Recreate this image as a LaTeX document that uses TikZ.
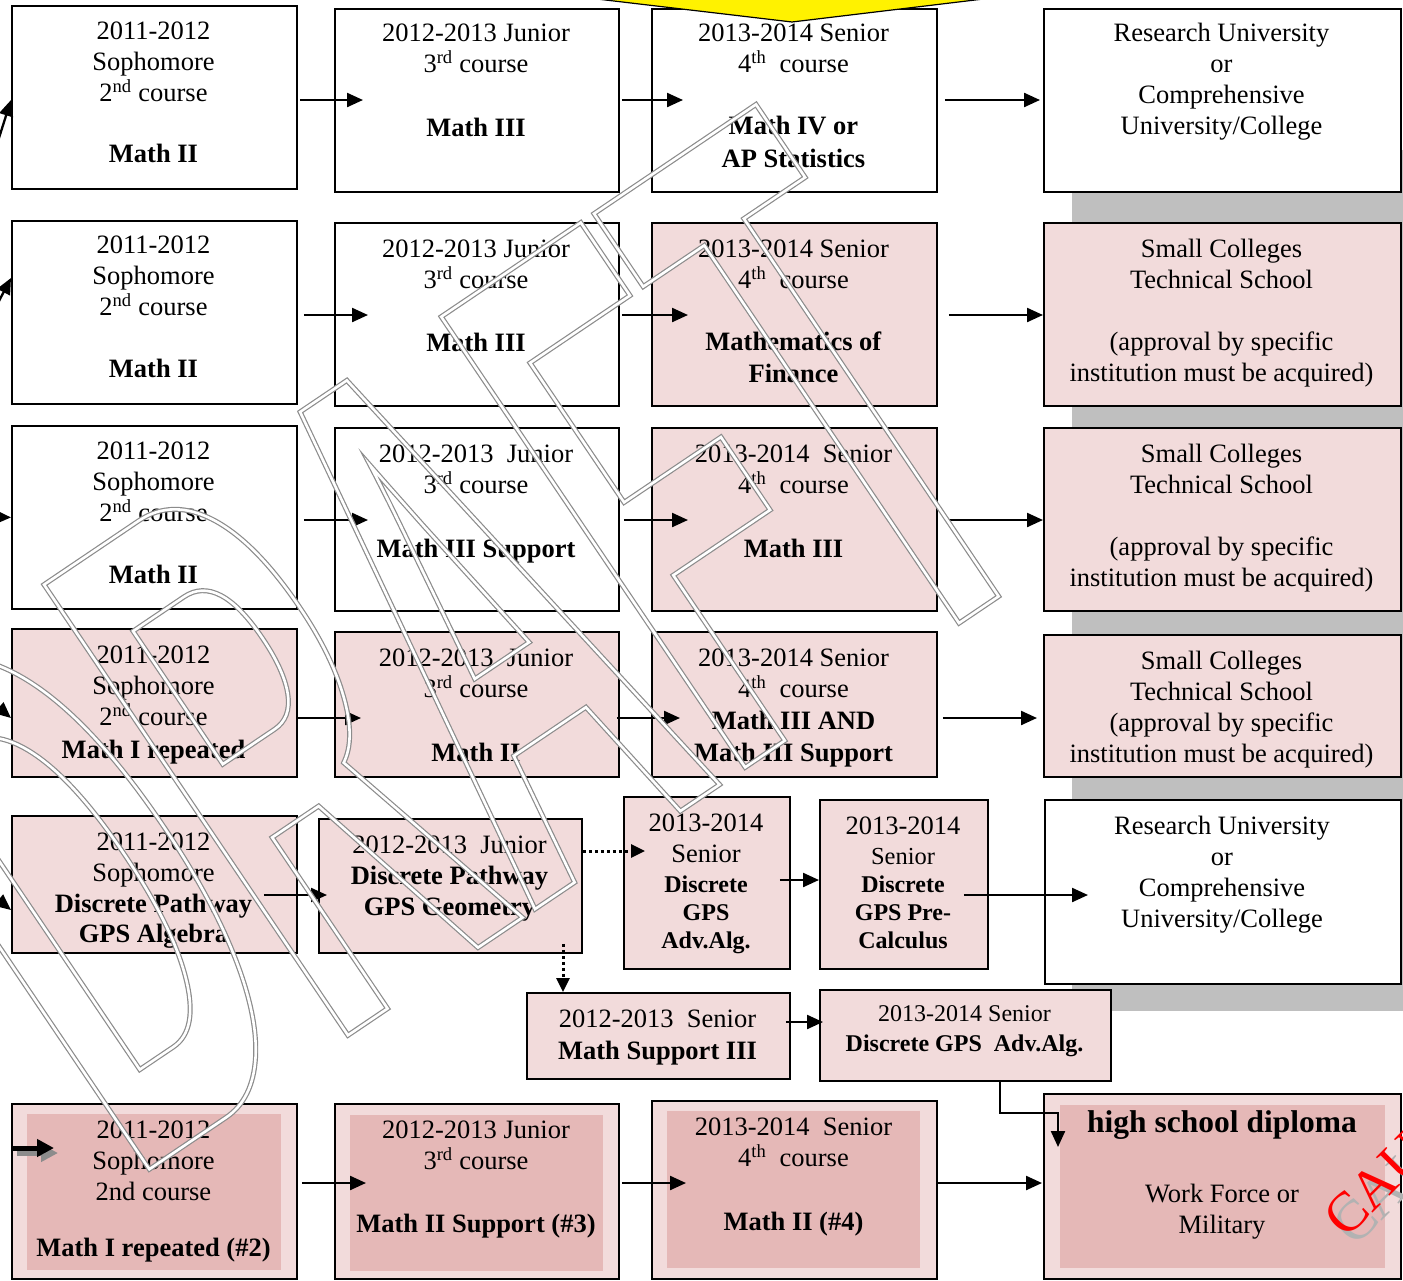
\documentclass[tikz,border=0pt]{standalone}
\usepackage{fontspec}
\setmainfont{Liberation Serif}
\newfontfamily\wmfont[FakeStretch=0.42]{Liberation Sans}
\usetikzlibrary{arrows.meta,calc}
\definecolor{pinkA}{HTML}{F2DBDB}
\definecolor{pinkB}{HTML}{E5B8B7}
\definecolor{bandgray}{HTML}{BFBFBF}
\newcommand\mystrut{\rule{0pt}{20pt}}
\begin{document}
\begin{tikzpicture}[x=1pt,y=-1pt,
  box/.style={draw=black,line width=1.8pt,inner sep=0pt,anchor=north west},
  inbox/.style={fill=pinkB,draw=none,inner sep=0pt,anchor=north west},
  txt/.style={anchor=north,inner sep=0pt,align=center,font=\fontsize{26.5}{31}\selectfont},
  sml/.style={anchor=north,inner sep=0pt,align=center,font=\fontsize{24}{30}\selectfont},
  arr/.style={line width=2.3pt,-{Triangle[length=16pt,width=14pt]}},
  dotarr/.style={line width=3pt,dash pattern=on 3pt off 3pt,-{Triangle[length=14pt,width=13pt]}},
  wm/.style={rotate=34,inner sep=0pt,font=\wmfont\bfseries\fontsize{790}{840}\selectfont},
  cau/.style={anchor=base west,rotate=45,inner sep=0pt,font=\fontsize{56}{60}\selectfont}
]
\useasboundingbox (0,0) rectangle (1403,1280);
\fill[bandgray] (1072,150) rectangle (1403,1011);

% ---- boxes
\node[box,fill=white,minimum width=285pt,minimum height=183pt] (a1) at (11,5) {};
\node[box,fill=white,minimum width=284pt,minimum height=183pt] (b1) at (334,8) {};
\node[box,fill=white,minimum width=285pt,minimum height=183pt] (c1) at (651,8) {};
\node[box,fill=white,minimum width=357pt,minimum height=183pt] (d1) at (1043,8) {};

\node[box,fill=white,minimum width=285pt,minimum height=183pt] (a2) at (11,220) {};
\node[box,fill=white,minimum width=284pt,minimum height=183pt] (b2) at (334,222) {};
\node[box,fill=pinkA,minimum width=285pt,minimum height=183pt] (c2) at (651,222) {};
\node[box,fill=pinkA,minimum width=357pt,minimum height=183pt] (d2) at (1043,222) {};

\node[box,fill=white,minimum width=285pt,minimum height=183pt] (a3) at (11,425) {};
\node[box,fill=white,minimum width=284pt,minimum height=183pt] (b3) at (334,427) {};
\node[box,fill=pinkA,minimum width=285pt,minimum height=183pt] (c3) at (651,427) {};
\node[box,fill=pinkA,minimum width=357pt,minimum height=183pt] (d3) at (1043,427) {};

\node[box,fill=pinkA,minimum width=285pt,minimum height=148pt] (a4) at (11,628) {};
\node[box,fill=pinkA,minimum width=284pt,minimum height=145pt] (b4) at (334,631) {};
\node[box,fill=pinkA,minimum width=285pt,minimum height=145pt] (c4) at (651,631) {};
\node[box,fill=pinkA,minimum width=357pt,minimum height=142pt] (d4) at (1043,634) {};

\node[box,fill=pinkA,minimum width=285pt,minimum height=137pt] (a5) at (11,815) {};
\node[box,fill=pinkA,minimum width=263pt,minimum height=134pt] (b5) at (318,818) {};
\node[box,fill=pinkA,minimum width=166pt,minimum height=172pt] (c5) at (623,796) {};
\node[box,fill=pinkA,minimum width=168pt,minimum height=169pt] (e5) at (819,799) {};
\node[box,fill=white,minimum width=356pt,minimum height=184pt] (d5) at (1044,799) {};

\node[box,fill=pinkA,minimum width=263pt,minimum height=86pt] (m1) at (526,992) {};
\node[box,fill=pinkA,minimum width=291pt,minimum height=91pt] (m2) at (819,989) {};

\node[box,fill=pinkA,minimum width=285pt,minimum height=175pt] (a7) at (11,1103) {};
\node[inbox,minimum width=254pt,minimum height=156pt] (a7i) at (27,1114) {};
\node[box,fill=pinkA,minimum width=284pt,minimum height=175pt] (b7) at (334,1103) {};
\node[inbox,minimum width=253pt,minimum height=156pt] (b7i) at (350,1115) {};
\node[box,fill=pinkA,minimum width=285pt,minimum height=178pt] (c7) at (651,1100) {};
\node[inbox,minimum width=253pt,minimum height=157pt] (c7i) at (667,1111) {};
\node[box,fill=pinkA,minimum width=357pt,minimum height=185pt] (d7) at (1043,1093) {};
\node[inbox,minimum width=325pt,minimum height=163pt] (d7i) at (1060,1105) {};

% ---- row coordinates
\coordinate (r1) at (0,100);
\coordinate (r2) at (0,315);
\coordinate (r3) at (0,520);
\coordinate (r4) at (0,718);
\coordinate (r5a) at (0,895);
\coordinate (r5b) at (0,851);
\coordinate (r5c) at (0,880);
\coordinate (r6) at (0,1022);
\coordinate (r7) at (0,1183);
\coordinate (vx) at (563,0);
\coordinate (k1) at (1000,1113);
\coordinate (k2) at (1058,1113);

% ---- arrows
\draw[arr] ($(a1.east|-r1)+(2,0)$) -- ($(b1.west|-r1)+(29,0)$);
\draw[arr] ($(b1.east|-r1)+(2,0)$) -- ($(c1.west|-r1)+(32,0)$);
\draw[arr] ($(c1.east|-r1)+(7,0)$) -- ($(d1.west|-r1)+(-3,0)$);

\draw[arr] ($(a2.east|-r2)+(6,0)$) -- ($(b2.west|-r2)+(34,0)$);
\draw[arr] ($(b2.east|-r2)+(2,0)$) -- ($(c2.west|-r2)+(37,0)$);
\draw[arr] ($(c2.east|-r2)+(11,0)$) -- (d2.west|-r2);

\draw[arr] ($(a3.east|-r3)+(6,0)$) -- ($(b3.west|-r3)+(34,0)$);
\draw[arr] ($(b3.east|-r3)+(4,0)$) -- ($(c3.west|-r3)+(37,0)$);
\draw[arr] ($(c3.east|-r3)+(11,0)$) -- (d3.west|-r3);

\draw[arr] (a4.east|-r4) -- ($(b4.west|-r4)+(27,0)$);
\draw[arr] ($(b4.east|-r4)+(-3,0)$) -- ($(c4.west|-r4)+(29,0)$);
\draw[arr] ($(c4.east|-r4)+(5,0)$) -- ($(d4.west|-r4)+(-6,0)$);

\draw[arr] ($(a5.east|-r5a)+(-34,0)$) -- ($(b5.west|-r5a)+(9,0)$);
\draw[dotarr] (b5.east|-r5b) -- ($(c5.west|-r5b)+(22,0)$);
\draw[dotarr] ($(b5.south-|vx)+(0,-10)$) -- (m1.north-|vx);
\draw[arr] ($(c5.east|-r5c)+(-11,0)$) -- (e5.west|-r5c);
\draw[arr] ($(e5.east|-r5a)+(-25,0)$) -- ($(d5.west|-r5a)+(44,0)$);

\draw[arr] ($(m1.east|-r6)+(-5,0)$) -- ($(m2.west|-r6)+(4,0)$);
\draw[arr] (m2.south-|k1) -- (k1) -- (k2) -- ($(d7.north west)+(15,54)$);

\draw[arr] ($(a7.east|-r7)+(4,0)$) -- ($(b7.west|-r7)+(32,0)$);
\draw[arr] ($(b7.east|-r7)+(2,0)$) -- ($(c7.west|-r7)+(35,0)$);
\draw[arr] (c7.east|-r7) -- ($(d7.west|-r7)+(-1,0)$);

% ---- incoming arrows from the left edge
\coordinate (s1) at (-8,160);
\coordinate (s2) at (-12,322);
\coordinate (s3) at (-30,516.5);
\coordinate (s4) at (-22,690);
\coordinate (s5) at (-20,885);
\coordinate (s7) at (13,1148);
\draw[arr] (s1) -- ($(a1.north west)+(0,95)$);
\draw[arr] (s2) -- ($(a2.north west)+(0,58)$);
\draw[arr] (s3) -- (a3.west);
\draw[arr] (s4) -- ($(a4.north west)+(0,90)$);
\draw[arr] (s5) -- ($(a5.north west)+(0,95)$);
\draw[line width=5pt,black!45,-{Triangle[length=17pt,width=17pt]}] ($(s7)+(4,5)$) -- ($(a7.north west)+(47,50)$);
\draw[line width=5pt,-{Triangle[length=17pt,width=17pt]}] (s7) -- ($(a7.north west)+(43,45)$);

% ---- texts
\node[txt] (a1t) at (153.5,19) {\mystrut 2011-2012\\Sophomore\\2\textsuperscript{nd} course\\[30pt]\textbf{Math II}};
\node[txt] (a2t) at (153.5,233) {\mystrut 2011-2012\\Sophomore\\2\textsuperscript{nd} course\\[31pt]\textbf{Math II}};
\node[txt] (a3t) at (153.5,439) {\mystrut 2011-2012\\Sophomore\\2\textsuperscript{nd} course\\[31pt]\textbf{Math II}};
\node[txt] (a4t) at (153.5,643) {\mystrut 2011-2012\\Sophomore\\2\textsuperscript{nd} course\\[2pt]\textbf{Math I repeated}};
\node[txt] (a5t) at (153.5,830) {\mystrut 2011-2012\\Sophomore\\\textbf{Discrete Pathway}\\[-1pt]\textbf{GPS Algebra}};
\node[txt] (a7t) at (153.5,1118) {\mystrut 2011-2012\\Sophomore\\2nd course\\[25pt]\textbf{Math I repeated (\#2)}};

\node[txt] (b1t) at (476,21) {\mystrut 2012-2013 Junior\\3\textsuperscript{rd} course\\[33pt]\textbf{Math III}};
\node[txt] (b2t) at (476,237) {\mystrut 2012-2013 Junior\\3\textsuperscript{rd} course\\[32pt]\textbf{Math III}};
\node[txt] (b3t) at (476,442) {\mystrut 2012-2013\ \ Junior\\3\textsuperscript{rd} course\\[33pt]\textbf{Math III Support}};
\node[txt] (b4t) at (476,646) {\mystrut 2012-2013\ \ Junior\\3\textsuperscript{rd} course\\[33pt]\textbf{Math II}};
\node[txt] (b5t) at (449.5,833) {\mystrut 2012-2013\ \ Junior\\\textbf{Discrete Pathway}\\\textbf{GPS Geometry}};
\node[txt] (b7t) at (476,1118) {\mystrut 2012-2013 Junior\\3\textsuperscript{rd} course\\[32pt]\textbf{Math II Support (\#3)}};

\node[txt] (c1t) at (793.5,21) {\mystrut 2013-2014 Senior\\4\textsuperscript{th}\ \ course\\[31pt]\textbf{Math IV or}\\[2pt]\textbf{AP Statistics}};
\node[txt] (c2t) at (793.5,237) {\mystrut 2013-2014 Senior\\4\textsuperscript{th}\ \ course\\[31pt]\textbf{Mathematics of}\\[1pt]\textbf{Finance}};
\node[txt] (c3t) at (793.5,442) {\mystrut 2013-2014\ \ Senior\\4\textsuperscript{th}\ \ course\\[33pt]\textbf{Math III}};
\node[txt] (c4t) at (793.5,646) {\mystrut 2013-2014 Senior\\4\textsuperscript{th}\ \ course\\[1pt]\textbf{Math III AND}\\[1pt]\textbf{Math III Support}};
\node[txt] (c7t) at (793.5,1115) {\mystrut 2013-2014\ \ Senior\\4\textsuperscript{th}\ \ course\\[33pt]\textbf{Math II (\#4)}};

\node[txt] (d1t) at (1221.5,21) {\mystrut Research University\\or\\Comprehensive\\University/College};
\node[txt] (d2t) at (1221.5,237) {\mystrut Small Colleges\\Technical School\\[31pt](approval by specific\\institution must be acquired)};
\node[txt] (d3t) at (1221.5,442) {\mystrut Small Colleges\\Technical School\\[31pt](approval by specific\\institution must be acquired)};
\node[txt] (d4t) at (1221.5,649) {\mystrut Small Colleges\\Technical School\\(approval by specific\\institution must be acquired)};
\node[txt] (d5t) at (1222,814) {\mystrut Research University\\or\\Comprehensive\\University/College};

\node[txt] (c5t) at (706,811) {\mystrut 2013-2014\\Senior\\[-1pt]{\fontsize{24}{28}\selectfont\textbf{Discrete}}\\[-3pt]{\fontsize{24}{28}\selectfont\textbf{GPS}}\\[-3pt]{\fontsize{24}{28}\selectfont\textbf{Adv.Alg.}}};
\node[txt] (e5t) at (903,814) {\mystrut 2013-2014\\[-1pt]{\fontsize{24.5}{28}\selectfont Senior}\\[-3pt]{\fontsize{24}{28}\selectfont\textbf{Discrete}}\\[-3pt]{\fontsize{24}{28}\selectfont\textbf{GPS Pre-}}\\[-3pt]{\fontsize{24}{28}\selectfont\textbf{Calculus}}};
\node[txt] (m1t) at (657.5,1007) {\mystrut 2012-2013\ \ Senior\\[1pt]\textbf{Math Support III}};
\node[sml] (m2t) at (964.5,1001) {\mystrut 2013-2014 Senior\\\textbf{Discrete GPS\ \ Adv.Alg.}};

\node[anchor=north,inner sep=0pt,font=\fontsize{31.5}{36}\selectfont\bfseries] (d7h) at (1222,1108) {\rule{0pt}{24pt}high school diploma};
\node[txt] (d7t) at (1222,1182) {\mystrut Work Force or\\Military};

% ---- watermark
\node[wm,text=black!45] (wm1) at (445,642) {\special{pdf:literal direct 1 Tr 5 w}DRAFT\special{pdf:literal direct 0 Tr}};
\node[wm,text=white] (wm2) at (445,642) {\special{pdf:literal direct 1 Tr 2.6 w}DRAFT\special{pdf:literal direct 0 Tr}};

% ---- yellow callout at top
\draw[fill=yellow,line width=1.2pt] (580,-3) -- (792,22) -- (1000,-3) -- cycle;

% ---- caution stamp
\node[cau,text=black!30] (cau2) at (1355,1248) {CAUTION};
\node[cau,text=red] (cau1) at (1346,1240) {CAUTION};
\end{tikzpicture}
\end{document}
